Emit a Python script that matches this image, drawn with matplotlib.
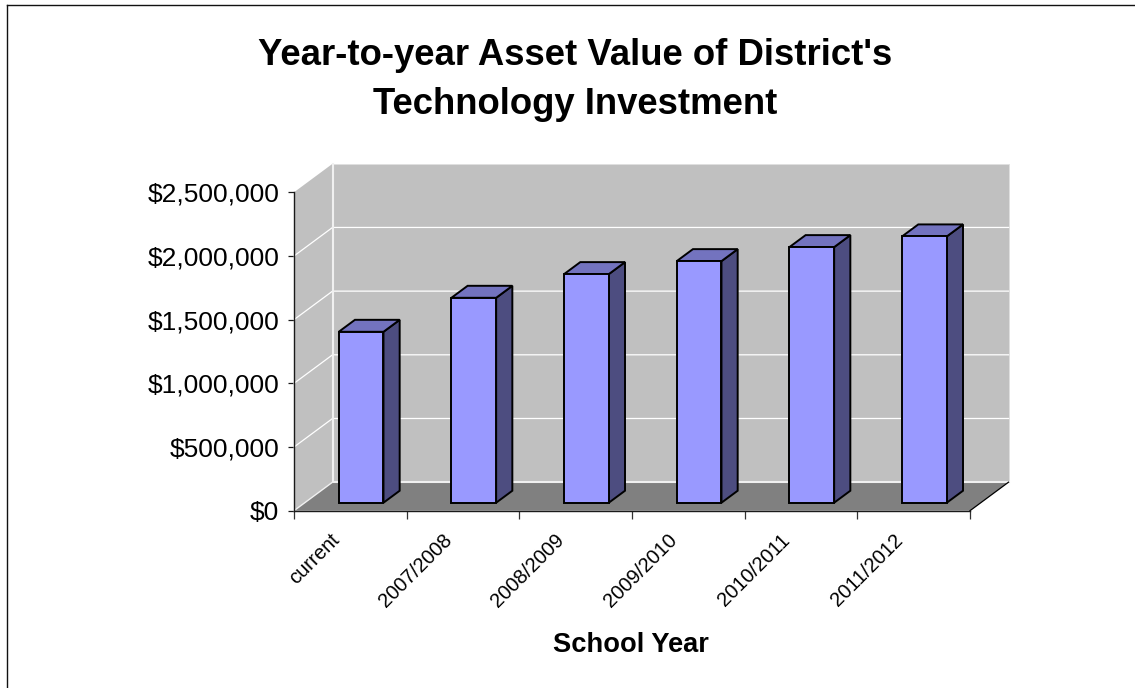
import matplotlib
matplotlib.use('Agg')
import matplotlib.pyplot as plt
from matplotlib.lines import Line2D
from matplotlib.patches import Polygon

plt.rcParams['font.family'] = ['Liberation Sans', 'DejaVu Sans']

# data
school_years = ['current', '2007/2008', '2008/2009', '2009/2010', '2010/2011', '2011/2012']
asset_values = [1342000, 1609000, 1795000, 1897000, 2007000, 2091000]
value_ticks = [0, 500000, 1000000, 1500000, 2000000, 2500000]
value_labels = ['$0', '$500,000', '$1,000,000', '$1,500,000', '$2,000,000', '$2,500,000']

# sizes of the fake 3D box, in data units
DEPTH_X = 0.342
DEPTH_Y = 224000
BAR_WIDTH = 0.397
BAR_FRONT = 0.28
BAR_BACK = 0.70

W, H = 1135, 688
fig = plt.figure(figsize=(W / 100, H / 100), dpi=100, facecolor='white')
ax = fig.add_axes([294 / W, (H - 510.7) / H, 676 / W, 318.4 / H])
ax.set_xlim(0, len(school_years))
ax.set_ylim(0, value_ticks[-1])
ax.patch.set_visible(False)


def project(x, y, depth):
    return (x + depth * DEPTH_X, y + depth * DEPTH_Y)


def face(points, **kw):
    kw.setdefault('clip_on', False)
    ax.add_patch(Polygon([project(*p) for p in points], closed=True, **kw))


x_end = len(school_years)
y_top = value_ticks[-1]

# walls and floor
face([(0, 0, 1), (x_end, 0, 1), (x_end, y_top, 1), (0, y_top, 1)],
     facecolor='#C0C0C0', edgecolor='#E0E0E0', lw=0.7, zorder=1)
face([(0, 0, 0), (0, 0, 1), (0, y_top, 1), (0, y_top, 0)],
     facecolor='#C0C0C0', edgecolor='none', zorder=1)
face([(0, 0, 0), (x_end, 0, 0), (x_end, 0, 1), (0, 0, 1)],
     facecolor='#808080', edgecolor='none', zorder=1.5)

# gridlines on the side wall and the back wall
for v in value_ticks[1:-1]:
    xs, ys = zip(project(0, v, 0), project(0, v, 1), project(x_end, v, 1))
    ax.plot(xs, ys, color='white', lw=0.9, clip_on=False, zorder=2)

# inner edges of the box
xs, ys = zip(project(0, y_top, 1), project(0, 0, 1), project(x_end, 0, 1))
ax.plot(xs, ys, color='#F0F0F0', lw=1.5, clip_on=False, zorder=2)
xs, ys = zip(project(0, 0, 0), project(0, 0, 1))
ax.plot(xs, ys, color='#F0F0F0', lw=1, clip_on=False, zorder=2)
xs, ys = zip(project(x_end, 0, 0), project(x_end, 0, 1))
ax.plot(xs, ys, color='black', lw=0.9, clip_on=False, zorder=2)

# bars
for i, val in enumerate(asset_values):
    left = i + 0.5 - BAR_WIDTH / 2
    right = i + 0.5 + BAR_WIDTH / 2
    style = dict(edgecolor='black', lw=1.4, joinstyle='miter', zorder=3 + i * 0.1)
    face([(right, 0, BAR_FRONT), (right, 0, BAR_BACK), (right, val, BAR_BACK), (right, val, BAR_FRONT)],
         facecolor='#4D4D80', **style)
    face([(left, val, BAR_FRONT), (right, val, BAR_FRONT), (right, val, BAR_BACK), (left, val, BAR_BACK)],
         facecolor='#7373BF', **style)
    face([(left, 0, BAR_FRONT), (right, 0, BAR_FRONT), (right, val, BAR_FRONT), (left, val, BAR_FRONT)],
         facecolor='#9999FF', **style)

# axes
for side in ['top', 'right']:
    ax.spines[side].set_visible(False)
for side in ['left', 'bottom']:
    ax.spines[side].set_linewidth(1)
    ax.spines[side].set_color('#1A1A1A')
    ax.spines[side].set_zorder(2.5)

ax.set_yticks(value_ticks)
ax.set_yticklabels(value_labels, fontsize=19)
ax.tick_params(axis='y', length=4.5, width=0.9, pad=6, color='#1A1A1A')

ax.set_xticks(range(x_end + 1))
ax.set_xticklabels([])
ax.tick_params(axis='x', which='major', length=6, width=0.9, color='#333333')
# labels sit a little left of the category centres
ax.set_xticks([i + 0.315 for i in range(x_end)], minor=True)
ax.set_xticklabels(school_years, minor=True, fontsize=14.5, rotation=45, ha='right',
                   rotation_mode='anchor')
ax.tick_params(axis='x', which='minor', length=0, pad=14)

fig.text(575.5 / W, 1 - 80 / H, "Year-to-year Asset Value of District's\nTechnology Investment",
         ha='center', va='center', fontsize=26.3, fontweight='bold', linespacing=1.54)
fig.text(631 / W, 1 - 645 / H, 'School Year', ha='center', va='center',
         fontsize=19.6, fontweight='bold')

# chart area border, only the top and left sides show
fig.add_artist(Line2D([7 / W, 7 / W], [0, 1 - 4.5 / H], color='#111111', lw=1))
fig.add_artist(Line2D([7 / W, 1], [1 - 4.5 / H, 1 - 4.5 / H], color='#111111', lw=1))

fig.savefig('out.png', dpi=100)
